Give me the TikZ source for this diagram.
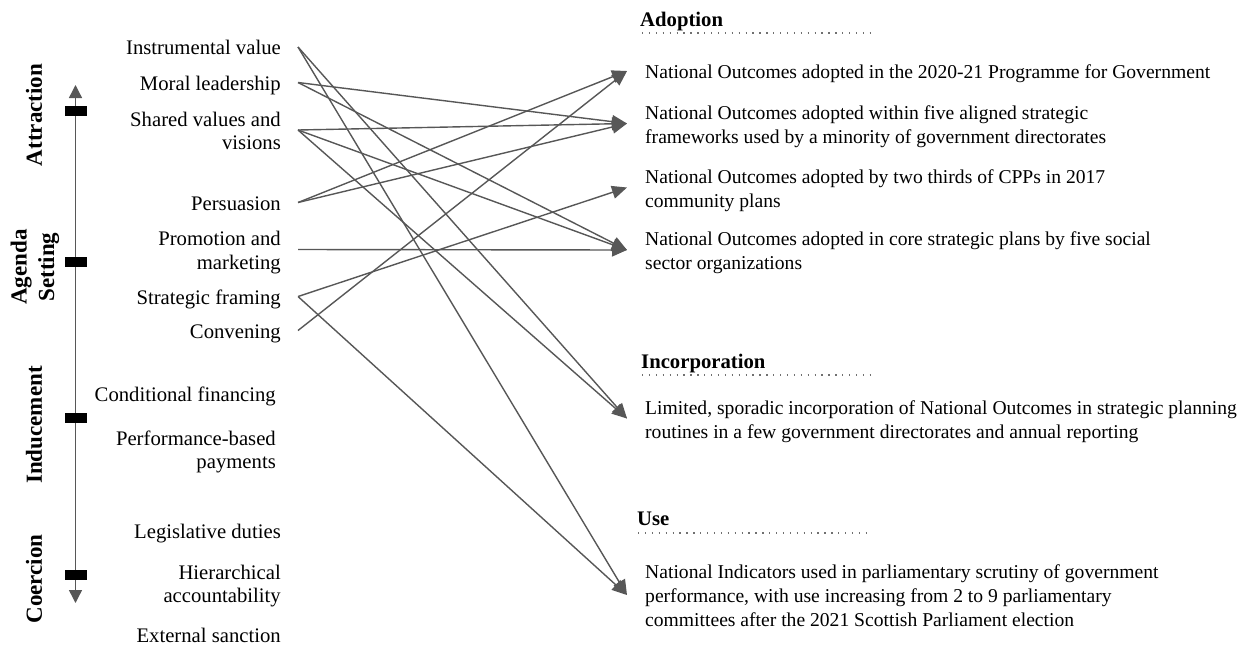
\documentclass[tikz,border=0pt]{standalone}
\usepackage{fontspec}
\setmainfont{Liberation Serif}
\usetikzlibrary{arrows.meta}
\definecolor{linegray}{HTML}{575757}
\definecolor{dotgray}{HTML}{707070}
% struts that keep the link point at the middle of the lettering
\newcommand\lvtopstrut{\rule{0pt}{0.96\baselineskip}}
\newcommand\lvbotstrut{\rule[-0.3\baselineskip]{0pt}{0pt}}
\begin{document}
\begin{tikzpicture}[x=1pt,y=-1pt,
  lever/.style={anchor=east, align=right, inner xsep=17pt, inner ysep=0pt,
    font=\fontsize{20.7}{23.5}\selectfont,
    execute at begin node=\lvtopstrut, execute at end node=\lvbotstrut},
  outcome/.style={anchor=west, align=left, inner xsep=18pt, inner ysep=0pt,
    font=\fontsize{19.6}{23.6}\selectfont,
    execute at begin node=\lvtopstrut, execute at end node=\lvbotstrut},
  stage/.style={anchor=base west, inner sep=0pt,
    font=\bfseries\fontsize{20.7}{24}\selectfont},
  side/.style={rotate=90, align=center, inner sep=0pt,
    font=\bfseries\fontsize{23}{27.5}\selectfont},
  tickbox/.style={fill=black, draw=none, minimum width=22pt, minimum height=10pt, inner sep=0pt},
  conn/.style={draw=linegray, line width=1.4pt, -{Triangle[length=15pt,width=13pt]}},
  axisline/.style={draw=linegray, line width=1.4pt,
    {Triangle[length=13pt,width=13pt]}-{Triangle[length=13pt,width=13pt]}},
  dotrule/.style={draw=dotgray, line width=1.3pt, dash pattern=on 1.3pt off 5.6pt},
]
\useasboundingbox (0,0) rectangle (1250,646);

% vertical scale of influence
\coordinate (axtop) at (75.5,85);
\coordinate (axbot) at (75.5,603);
\draw[axisline] (axtop) -- (axbot);
\node[tickbox] (t1) at (76,111) {};
\node[tickbox] (t2) at (76,262) {};
\node[tickbox] (t3) at (76,418) {};
\node[tickbox] (t4) at (76,575) {};

\node[side] (sAttr) at (34,115) {Attraction};
\node[side] (sAgen) at (35,267) {Agenda\\Setting};
\node[side] (sIndu) at (34,425) {Inducement};
\node[side] (sCoer) at (34,579) {Coercion};

% levers
\node[lever] (iv) at (298,47)    {Instrumental value};
\node[lever] (ml) at (298,82.5)  {Moral leadership};
\node[lever] (sv) at (298,130)   {\lvtopstrut Shared values and\\visions};
\node[lever] (pe) at (298,202.5) {Persuasion};
\node[lever] (pm) at (298,249.5) {\lvtopstrut Promotion and\\marketing};
\node[lever] (sf) at (298,296.5) {Strategic framing};
\node[lever] (cv) at (298,330.5) {Convening};
\node[lever] (cf) at (293,394)   {Conditional financing};
\node[lever] (pb) at (293,449)   {\lvtopstrut Performance-based\\payments};
\node[lever] (ld) at (298,531)   {Legislative duties};
\node[lever] (ha) at (298,583)   {\lvtopstrut Hierarchical\\accountability};
\node[lever] (es) at (298,635)   {External sanction};

% stage headings
\node[stage] (hA) at (640,26)  {Adoption};
\node[stage] (hI) at (641,368) {Incorporation};
\node[stage] (hU) at (637,525) {Use};
\draw[dotrule] ([shift={(2pt,-7pt)}]hA.base west) -- ++(231,0);
\draw[dotrule] ([shift={(1pt,-7pt)}]hI.base west) -- ++(231,0);
\draw[dotrule] ([shift={(1pt,-8pt)}]hU.base west) -- ++(231,0);

% outcomes
\node[outcome] (a1) at (627,71)    {National Outcomes adopted in the 2020-21 Programme for Government};
\node[outcome] (a2) at (627,123.5) {\lvtopstrut National Outcomes adopted within five aligned strategic\\frameworks used by a minority of government directorates};
\node[outcome] (a3) at (627,187.5) {\lvtopstrut National Outcomes adopted by two thirds of CPPs in 2017\\community plans};
\node[outcome] (a4) at (627,250)   {\lvtopstrut National Outcomes adopted in core strategic plans by five social\\sector organizations};
\node[outcome] (ic) at (627,418.5) {\lvtopstrut Limited, sporadic incorporation of National Outcomes in strategic planning\\routines in a few government directorates and annual reporting};
\node[outcome, font=\fontsize{19.6}{24}\selectfont] (us) at (627,595)
  {\lvtopstrut National Indicators used in parliamentary scrutiny of government\\performance, with use increasing from 2 to 9 parliamentary\\committees after the 2021 Scottish Parliament election};

% links from levers to outcomes
\draw[conn] (iv.east) -- (ic.west);
\draw[conn] (iv.east) -- (us.west);
\draw[conn] (ml.east) -- (a2.west);
\draw[conn] (ml.east) -- (a4.west);
\draw[conn] (sv.east) -- (a2.west);
\draw[conn] (sv.east) -- (a4.west);
\draw[conn] (sv.east) -- (ic.west);
\draw[conn] (pe.east) -- (a1.west);
\draw[conn] (pe.east) -- (a2.west);
\draw[conn] (pm.east) -- (a4.west);
\draw[conn] (sf.east) -- (a3.west);
\draw[conn] (sf.east) -- (us.west);
\draw[conn] (cv.east) -- (a1.west);
\end{tikzpicture}
\end{document}
